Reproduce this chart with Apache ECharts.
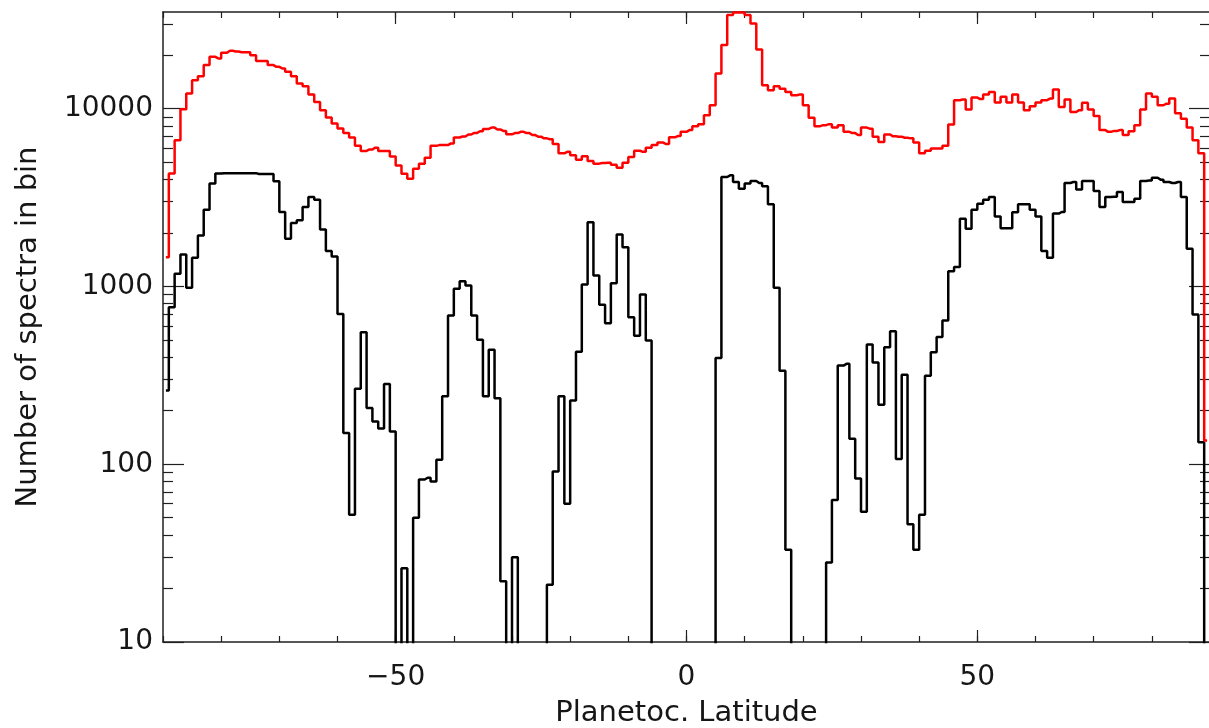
<!DOCTYPE html>
<html>
<head>
<meta charset="utf-8">
<script src="https://cdn.jsdelivr.net/npm/echarts@6/dist/echarts.min.js"></script>
<style>
html,body{margin:0;padding:0;background:#fff;}
#chart{width:1209px;height:728px;}
</style>
</head>
<body>
<div id="chart"></div>
<script>
// 1-degree latitude bins, -90..90 (values are given at bin centres)
const binStart = -90;
const binCount = 180;
const latitudes = Array.from({length: binCount}, (_, i) => binStart + 0.5 + i);

// Red histogram (all spectra)
const allSpectra = [
  1460, 4320, 6650, 9930, 12160, 14480, 15250, 17590, 19590, 19180,
  20650, 21190, 21000, 20800, 20800, 20000, 18530, 18530, 17590, 17200,
  16850, 16130, 15240, 13870, 13390, 12020, 10920, 9810, 8920, 8250,
  7730, 7310, 6880, 6180, 5790, 5900, 6040, 5790, 5790, 5390,
  4800, 4310, 4040, 4600, 4910, 5300, 6180, 6240, 6240, 6380,
  6890, 6980, 7160, 7310, 7470, 7700, 7830, 7640, 7500, 7180,
  7290, 7410, 7290, 7110, 6960, 6810, 6740, 6330, 5610, 5720,
  5470, 5170, 5400, 5080, 4910, 4950, 4970, 4840, 4660, 4970,
  5350, 5800, 5720, 6040, 6250, 6450, 6330, 6900, 7020, 7410,
  7580, 7980, 8190, 9190, 10460, 15790, 22790, 33640, 34800, 34800,
  33640, 30200, 21550, 13550, 12700, 13380, 12970, 12420, 11900, 12040,
  10460, 8900, 7980, 8080, 8190, 7830, 8080, 7410, 7290, 7110,
  7830, 7720, 6960, 6500, 7160, 6990, 6960, 6870, 6810, 6450,
  5610, 5800, 5980, 5980, 6180, 8150, 11170, 11270, 9890, 11560,
  11330, 12020, 12420, 10840, 11670, 10840, 12020, 10840, 9810, 10330,
  10840, 11170, 11400, 12830, 10240, 11270, 9590, 9810, 10800, 9890,
  9100, 7580, 7410, 7500, 7580, 7110, 7470, 8080, 9890, 12190,
  11670, 10460, 10670, 11400, 9430, 8790, 7830, 6650, 5610, 136
];

// Black histogram (selected spectra)
const selectedSpectra = [
  260, 764, 1178, 1514, 984, 1452, 1936, 2705, 3790, 4315,
  4340, 4340, 4340, 4340, 4340, 4340, 4290, 4290, 4290, 3910,
  2625, 1858, 2275, 2356, 2800, 3187, 3080, 2090, 1582, 1476,
  701, 150, 52, 266, 553, 207, 174, 159, 283, 153,
  0, 26, 0, 50, 82, 84, 80, 106, 241, 687,
  971, 1071, 1014, 687, 501, 241, 440, 235, 22, 0,
  30, 0, 0, 0, 0, 0, 21, 91, 241, 60,
  228, 430, 1026, 2300, 1153, 789, 621, 1043, 1963, 1664,
  671, 529, 902, 497, 0, 0, 0, 0, 0, 0,
  0, 0, 0, 0, 0, 396, 4130, 4220, 3870, 3550,
  3790, 3920, 3820, 3660, 2900, 984, 336, 33, 0, 0,
  0, 0, 0, 0, 28, 63, 359, 367, 139, 83,
  54, 471, 373, 216, 455, 560, 107, 319, 46, 33,
  52, 315, 427, 519, 643, 1219, 1285, 2404, 2113, 2705,
  2924, 3080, 3187, 2477, 2124, 2124, 2612, 2900, 2900, 2705,
  2477, 1582, 1452, 2570, 2625, 3820, 3870, 3507, 3920, 3920,
  3444, 2800, 3187, 3200, 3398, 2987, 2987, 3120, 3920, 3950,
  4090, 3990, 3870, 3820, 3870, 3187, 1630, 695, 133, 0
];

// Axis ticks
const xMajorTicks = [-50, 0, 50];
const yMajorTicks = [10, 100, 1000, 10000];
const yMinorTicks = [20, 30, 40, 50, 60, 70, 80, 90,
                     200, 300, 400, 500, 600, 700, 800, 900,
                     2000, 3000, 4000, 5000, 6000, 7000, 8000, 9000,
                     20000, 30000];
const xRange = [-90, 90];
const yRange = [10, 35000];

// Empty bins (0) cannot sit on a log axis: drop them below the axis floor, where they are clipped.
const LOG_FLOOR = 1;
function toPairs(vals) {
  return latitudes.map((lat, i) => [lat, vals[i] > 0 ? vals[i] : LOG_FLOOR]);
}

const FONT = 'DejaVu Sans';
const TXT = '#161616';
const AX = '#202020';
const labelStyle = {fontFamily: FONT, fontSize: 28, color: TXT, fontWeight: 'normal'};
const nameStyle = {fontFamily: FONT, fontSize: 29, color: TXT, fontWeight: 'normal'};

function xAxisDef(pos, major, showLine, withLabels) {
  const a = {
    type: 'value', min: xRange[0], max: xRange[1], position: pos, gridIndex: 0,
    interval: 10,
    axisLine: {show: showLine, onZero: false, lineStyle: {color: AX, width: 1.5}},
    axisTick: {show: true, inside: true, length: major ? 12 : 6, lineStyle: {color: AX, width: 1.2}},
    axisLabel: {show: false},
    splitLine: {show: false}
  };
  if (major) a.axisTick.customValues = xMajorTicks;
  if (withLabels) {
    a.axisLabel = Object.assign({
      show: true, customValues: xMajorTicks, margin: 22,
      formatter: v => (v < 0 ? '\u2212' + Math.abs(v) : String(v))
    }, labelStyle);
    a.name = 'Planetoc. Latitude';
    a.nameLocation = 'middle';
    a.nameGap = 57;
    a.nameTextStyle = Object.assign({}, nameStyle);
  }
  return a;
}

function yAxisDef(pos, major, showLine, withLabels) {
  const a = {
    type: 'log', logBase: 10, min: yRange[0], max: yRange[1], position: pos, gridIndex: 0,
    axisLine: {show: showLine, onZero: false, lineStyle: {color: AX, width: 1.5}},
    axisTick: {show: true, inside: true, length: major ? 21 : 10,
               customValues: major ? yMajorTicks : yMinorTicks,
               lineStyle: {color: AX, width: 1.2}},
    axisLabel: {show: false},
    splitLine: {show: false},
    minorTick: {show: false}
  };
  if (withLabels) {
    a.axisLabel = Object.assign({
      show: true, customValues: yMajorTicks, margin: 10,
      formatter: v => String(Math.round(v))
    }, labelStyle);
    a.name = 'Number of spectra in bin';
    a.nameLocation = 'middle';
    a.nameGap = 120;
    a.nameTextStyle = Object.assign({}, nameStyle);
  }
  return a;
}

const chart = echarts.init(document.getElementById('chart'), null, {renderer: 'canvas'});
chart.setOption({
  animation: false,
  backgroundColor: '#ffffff',
  grid: {left: 163, right: -1, top: 12, bottom: 86, containLabel: false, outerBoundsMode: 'none'},
  xAxis: [
    xAxisDef('bottom', true, true, true),
    xAxisDef('bottom', false, false, false),
    xAxisDef('top', true, true, false),
    xAxisDef('top', false, false, false)
  ],
  yAxis: [
    yAxisDef('left', true, true, true),
    yAxisDef('left', false, false, false),
    yAxisDef('right', true, true, false),
    yAxisDef('right', false, false, false)
  ],
  series: [
    {
      name: 'All spectra', type: 'line', step: 'middle', xAxisIndex: 0, yAxisIndex: 0,
      data: toPairs(allSpectra), showSymbol: false, symbol: 'none', clip: true,
      lineStyle: {color: '#ff0000', width: 2.5}, z: 3
    },
    {
      name: 'Selected spectra', type: 'line', step: 'middle', xAxisIndex: 0, yAxisIndex: 0,
      data: toPairs(selectedSpectra), showSymbol: false, symbol: 'none', clip: true,
      lineStyle: {color: '#000000', width: 2.5}, z: 2
    }
  ]
});
</script>
</body>
</html>
